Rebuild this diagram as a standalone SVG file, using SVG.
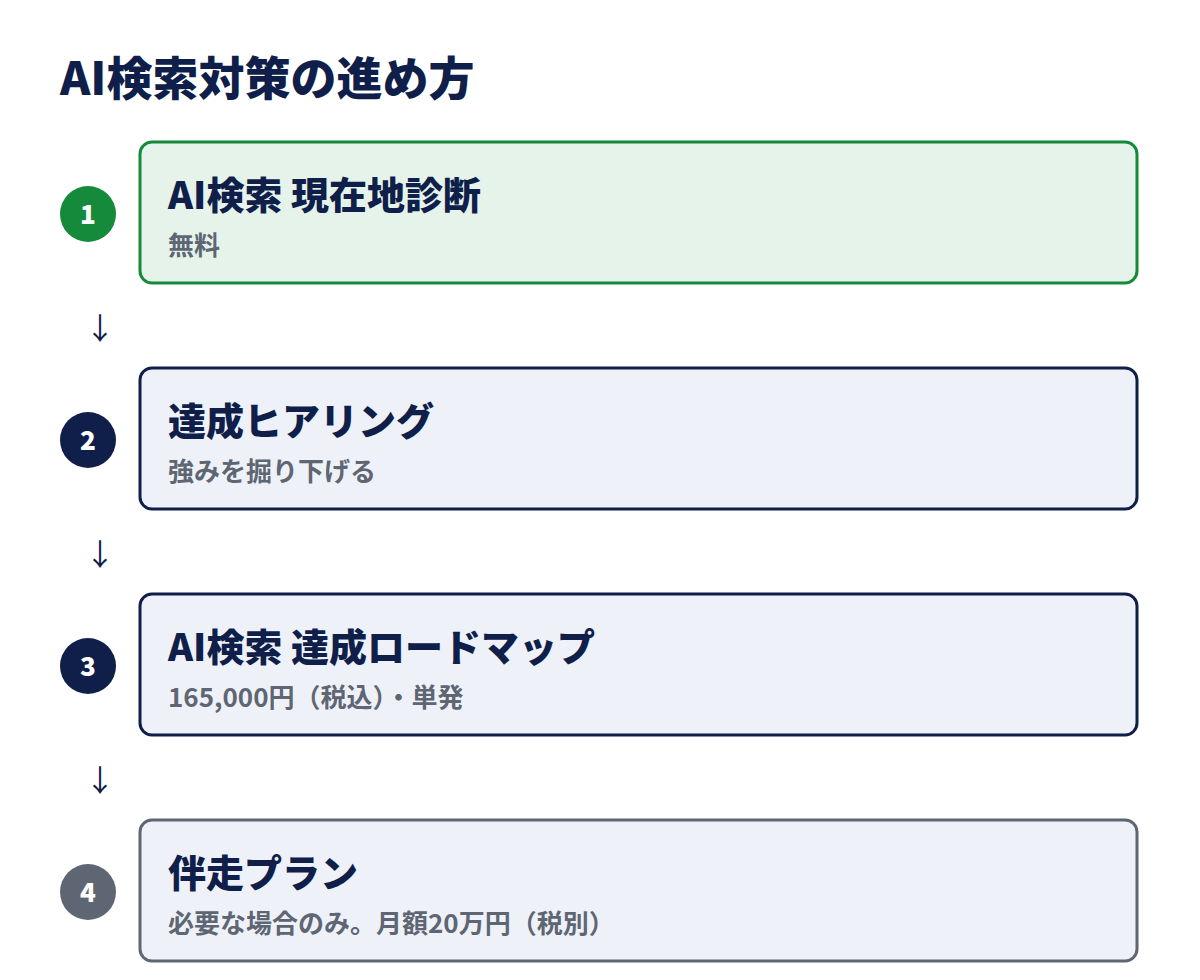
<svg xmlns="http://www.w3.org/2000/svg" width="1200" height="980" viewBox="0 0 1200 980">
<style>
text{font-family:"Noto Sans CJK JP","Noto Sans",sans-serif;}
.title{font-size:46px;font-weight:900;fill:#0f1f4a;}
.h{font-size:38px;font-weight:900;fill:#0f1f4a;}
.s{font-size:26px;font-weight:700;fill:#5f6673;}
.num{font-size:26px;font-weight:900;fill:#ffffff;text-anchor:middle;}
.box{stroke-width:3;}
.arr{font-size:30px;font-weight:400;fill:#0f1f4a;text-anchor:middle;}
</style>
<rect width="1200" height="980" fill="#ffffff"/>
<text class="title" x="60" y="95">AI検索対策の進め方</text>
<g id="step1">
<rect class="box" x="140" y="142" width="997" height="141" rx="12" fill="#e5f3ea" stroke="#148a3a"/>
<circle cx="88" cy="214" r="28" fill="#148a3a"/>
<text class="num" x="88" y="224">1</text>
<text class="h" x="168" y="209">AI検索 現在地診断</text>
<text class="s" x="168" y="255">無料</text>
</g>
<g id="step2">
<rect class="box" x="140" y="368" width="997" height="141" rx="12" fill="#eef2f8" stroke="#0f1f4a"/>
<circle cx="88" cy="440" r="28" fill="#0f1f4a"/>
<text class="num" x="88" y="450">2</text>
<text class="h" x="168" y="435">達成ヒアリング</text>
<text class="s" x="168" y="481">強みを掘り下げる</text>
</g>
<g id="step3">
<rect class="box" x="140" y="594" width="997" height="141" rx="12" fill="#eef2f8" stroke="#0f1f4a"/>
<circle cx="88" cy="666" r="28" fill="#0f1f4a"/>
<text class="num" x="88" y="676">3</text>
<text class="h" x="168" y="661">AI検索 達成ロードマップ</text>
<text class="s" x="168" y="707">165,000円（税込）・単発</text>
</g>
<g id="step4">
<rect class="box" x="140" y="820" width="997" height="141" rx="12" fill="#eef2f8" stroke="#5f6673"/>
<circle cx="88" cy="892" r="28" fill="#5f6673"/>
<text class="num" x="88" y="902">4</text>
<text class="h" x="168" y="887">伴走プラン</text>
<text class="s" x="168" y="933">必要な場合のみ。月額20万円（税別）</text>
</g>
<g id="connectors">
<text class="arr" x="100" y="339">↓</text>
<text class="arr" x="100" y="565">↓</text>
<text class="arr" x="100" y="791">↓</text>
</g>
</svg>
